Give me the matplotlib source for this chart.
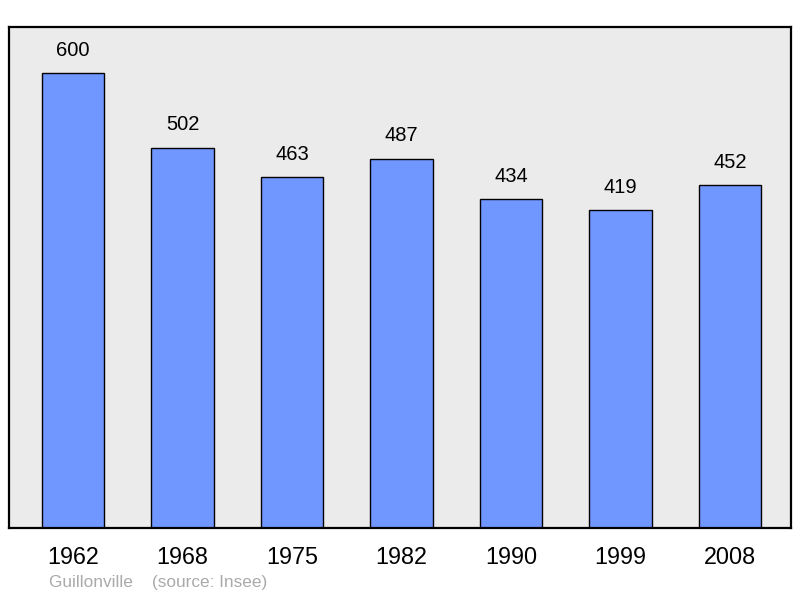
import matplotlib
matplotlib.use("Agg")
import matplotlib.pyplot as plt

years = ["1962", "1968", "1975", "1982", "1990", "1999", "2008"]
population = [600, 502, 463, 487, 434, 419, 452]

plt.rcParams['font.family'] = ['Liberation Sans', 'DejaVu Sans']

fig = plt.figure(figsize=(8, 5.98), dpi=100)
ax = fig.add_axes([9 / 800, 70 / 598, 782 / 800, 501 / 598])
ax.set_facecolor("#ebebeb")

xs = list(range(len(years)))
ax.bar(xs, population, width=0.57, color="#7096ff", edgecolor="black", linewidth=1.0, zorder=2)
for x, v in zip(xs, population):
    ax.annotate(str(v), (x, v), xytext=(0, 16.5), textcoords="offset points",
                ha="center", va="center", fontsize=14.5)

ax.set_xlim(-0.585, 6.557)
ax.set_ylim(0, 661)
ax.set_yticks([])
ax.set_xticks(xs)
ax.set_xticklabels(years, fontsize=16.8)
ax.tick_params(axis="x", length=0, pad=13)
for s in ax.spines.values():
    s.set_linewidth(1.6)

fig.text(49 / 800, 1 - 583 / 598, "Guillonville    (source: Insee)", color="#aaaaaa",
         fontsize=12.4, va="center", ha="left")

fig.savefig("out.png", dpi=100)
